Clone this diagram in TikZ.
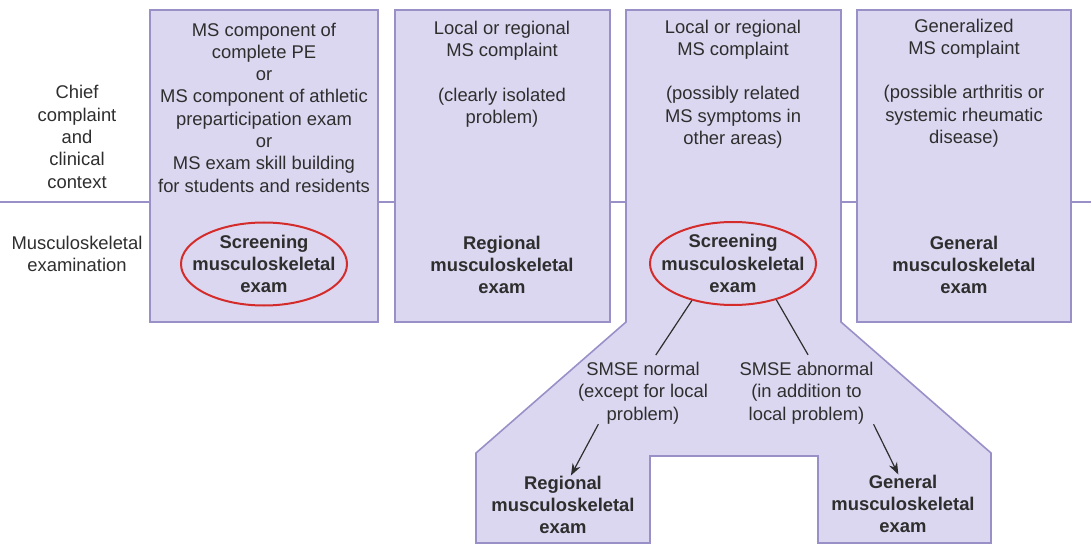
\documentclass[tikz,border=0pt]{standalone}
\usepackage{fontspec}
\setmainfont{Liberation Sans}
\usetikzlibrary{arrows.meta,shapes.geometric}

\definecolor{boxfill}{HTML}{DCD7F0}
\definecolor{boxline}{HTML}{9A90C8}
\definecolor{ringred}{HTML}{D42B2B}
\definecolor{inkgray}{HTML}{2E2E2E}

\begin{document}
\begin{tikzpicture}[x=0.5pt,y=-0.5pt,
  txt/.style={align=center,text=inkgray,inner sep=0pt,font=\fontsize{9.2}{11.15}\selectfont},
  hd/.style={txt,font=\fontsize{9.2}{11.15}\selectfont\bfseries},
  panel/.style={fill=boxfill,draw=boxline,line width=0.8pt},
  ring/.style={ellipse,draw=ringred,line width=1pt,inner sep=0pt,minimum width=83pt,minimum height=41.5pt},
  link/.style={draw=inkgray,line width=0.6pt}]
\useasboundingbox (0,0) rectangle (1091,545);

% divider between the two rows
\draw[boxline,line width=0.9pt] (0,202) -- (1091,202);

% the four columns
\draw[panel] (150,10) rectangle (378,322);
\draw[panel] (395,10) rectangle (610,322);
\draw[panel] (626,10) -- (841,10) -- (841,322) -- (991,453) -- (991,543) -- (818,543)
  -- (818,456) -- (650,456) -- (650,543) -- (476,543) -- (476,453) -- (626,322) -- cycle;
\draw[panel] (857,10) rectangle (1071,322);

% row titles
\node [txt] (ctx) at (77,137) {Chief\\complaint\\and\\clinical\\context};
\node [txt] (exm) at (77,254) {Musculoskeletal\\examination};

% top row
\node [txt] (c1) at (264,107.5) {MS component of\\complete PE\\or\\MS component of athletic\\preparticipation exam\\or\\MS exam skill building\\for students and residents};
\node [txt] (c2) at (502,74) {Local or regional\\MS complaint\\[11.15pt](clearly isolated\\problem)};
\node [txt] (c3) at (733,84) {Local or regional\\MS complaint\\[11.15pt](possibly related\\MS symptoms in\\other areas)};
\node [txt] (c4) at (964,83) {Generalized\\MS complaint\\[11.15pt](possible arthritis or\\systemic rheumatic\\disease)};

% bottom row
\node [ring] (scr1) at (264,264) {};
\node [hd] (scr1t) at (scr1) {Screening\\musculoskeletal\\exam};
\node [hd] (reg1) at (502,265) {Regional\\musculoskeletal\\exam};
\node [ring] (scr2) at (733,263.5) {};
\node [hd] (scr2t) at (scr2) {Screening\\musculoskeletal\\exam};
\node [hd] (gen1) at (964,265) {General\\musculoskeletal\\exam};

% outcome of the screening exam
\node [txt] (norm) at (643,393) {SMSE normal\\(except for local\\problem)};
\node [txt] (abn) at (806.5,393) {SMSE abnormal\\(in addition to\\local problem)};
\node [hd] (reg2) at (563,505) {Regional\\musculoskeletal\\exam};
\node [hd] (gen2) at (903,504) {General\\musculoskeletal\\exam};

\draw[link,shorten >=4pt] (scr2.222) -- (norm.75);
\draw[link,shorten >=4pt] (scr2.320) -- (abn.80);
\draw[link,-{Stealth[length=6pt,width=4.4pt]}] (norm.215) -- (reg2.75);
\draw[link,-{Stealth[length=6pt,width=4.4pt]}] (abn.335) -- (gen2.99);
\end{tikzpicture}
\end{document}
